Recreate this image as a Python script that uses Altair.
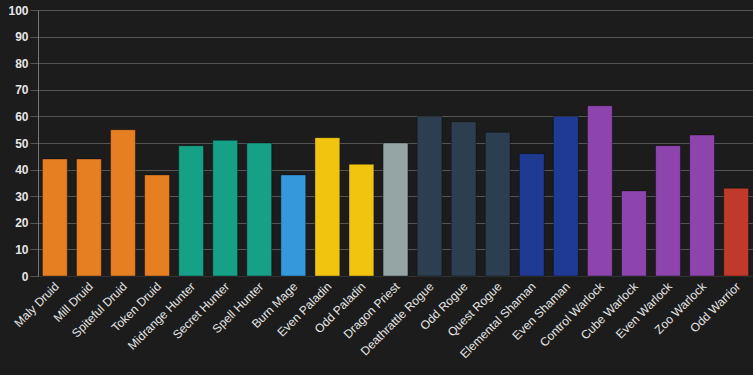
import altair as alt
import pandas as pd

decks = ["Maly Druid", "Mill Druid", "Spiteful Druid", "Token Druid", "Midrange Hunter",
         "Secret Hunter", "Spell Hunter", "Burn Mage", "Even Paladin", "Odd Paladin",
         "Dragon Priest", "Deathrattle Rogue", "Odd Rogue", "Quest Rogue", "Elemental Shaman",
         "Even Shaman", "Control Warlock", "Cube Warlock", "Even Warlock", "Zoo Warlock",
         "Odd Warrior"]
values = [44, 44, 55, 38, 49, 51, 50, 38, 52, 42, 50, 60, 58, 54, 46, 60, 64, 32, 49, 53, 33]
classes = ["Druid", "Druid", "Druid", "Druid", "Hunter", "Hunter", "Hunter", "Mage",
           "Paladin", "Paladin", "Priest", "Rogue", "Rogue", "Rogue", "Shaman", "Shaman",
           "Warlock", "Warlock", "Warlock", "Warlock", "Warrior"]
class_names = ["Druid", "Hunter", "Mage", "Paladin", "Priest", "Rogue", "Shaman", "Warlock", "Warrior"]
class_colors = ["#E67E22", "#16A085", "#3498DB", "#F1C40F", "#95A5A6", "#2C3E50", "#1F3A93", "#8E44AD", "#C0392B"]

df = pd.DataFrame({"deck": decks, "value": values, "cls": classes})

chart = alt.Chart(df).mark_bar(stroke="#000000", strokeOpacity=0.35, strokeWidth=1).encode(
    x=alt.X("deck:N", sort=decks, title=None,
            scale=alt.Scale(paddingInner=0.27, paddingOuter=0.13),
            axis=alt.Axis(labelAngle=-45, labelAlign="right", labelBaseline="middle",
                          labelColor="#e6e6e6", labelFont="Liberation Sans", labelFontSize=12,
                          labelPadding=8, labelOffset=2, ticks=False, domainColor="#333333",
                          labelOverlap=False)),
    y=alt.Y("value:Q", title=None,
            scale=alt.Scale(domain=[0, 100], nice=False),
            axis=alt.Axis(values=list(range(0, 101, 10)), labelColor="#e6e6e6",
                          labelFont="Liberation Sans", labelFontSize=12, labelFontWeight="bold",
                          tickColor="#555555", tickSize=8, labelPadding=2,
                          gridColor="#555555", domainColor="#777777")),
    color=alt.Color("cls:N", scale=alt.Scale(domain=class_names, range=class_colors), legend=None),
).properties(
    width=715, height=266,
    background="#1c1c1c",
    padding={"left": 38, "top": 10, "right": 0, "bottom": 99},
    autosize=alt.AutoSizeParams(type="none"),
).configure_view(stroke=None)

chart.save("out.html", embed_options={"renderer": "svg", "actions": False})
